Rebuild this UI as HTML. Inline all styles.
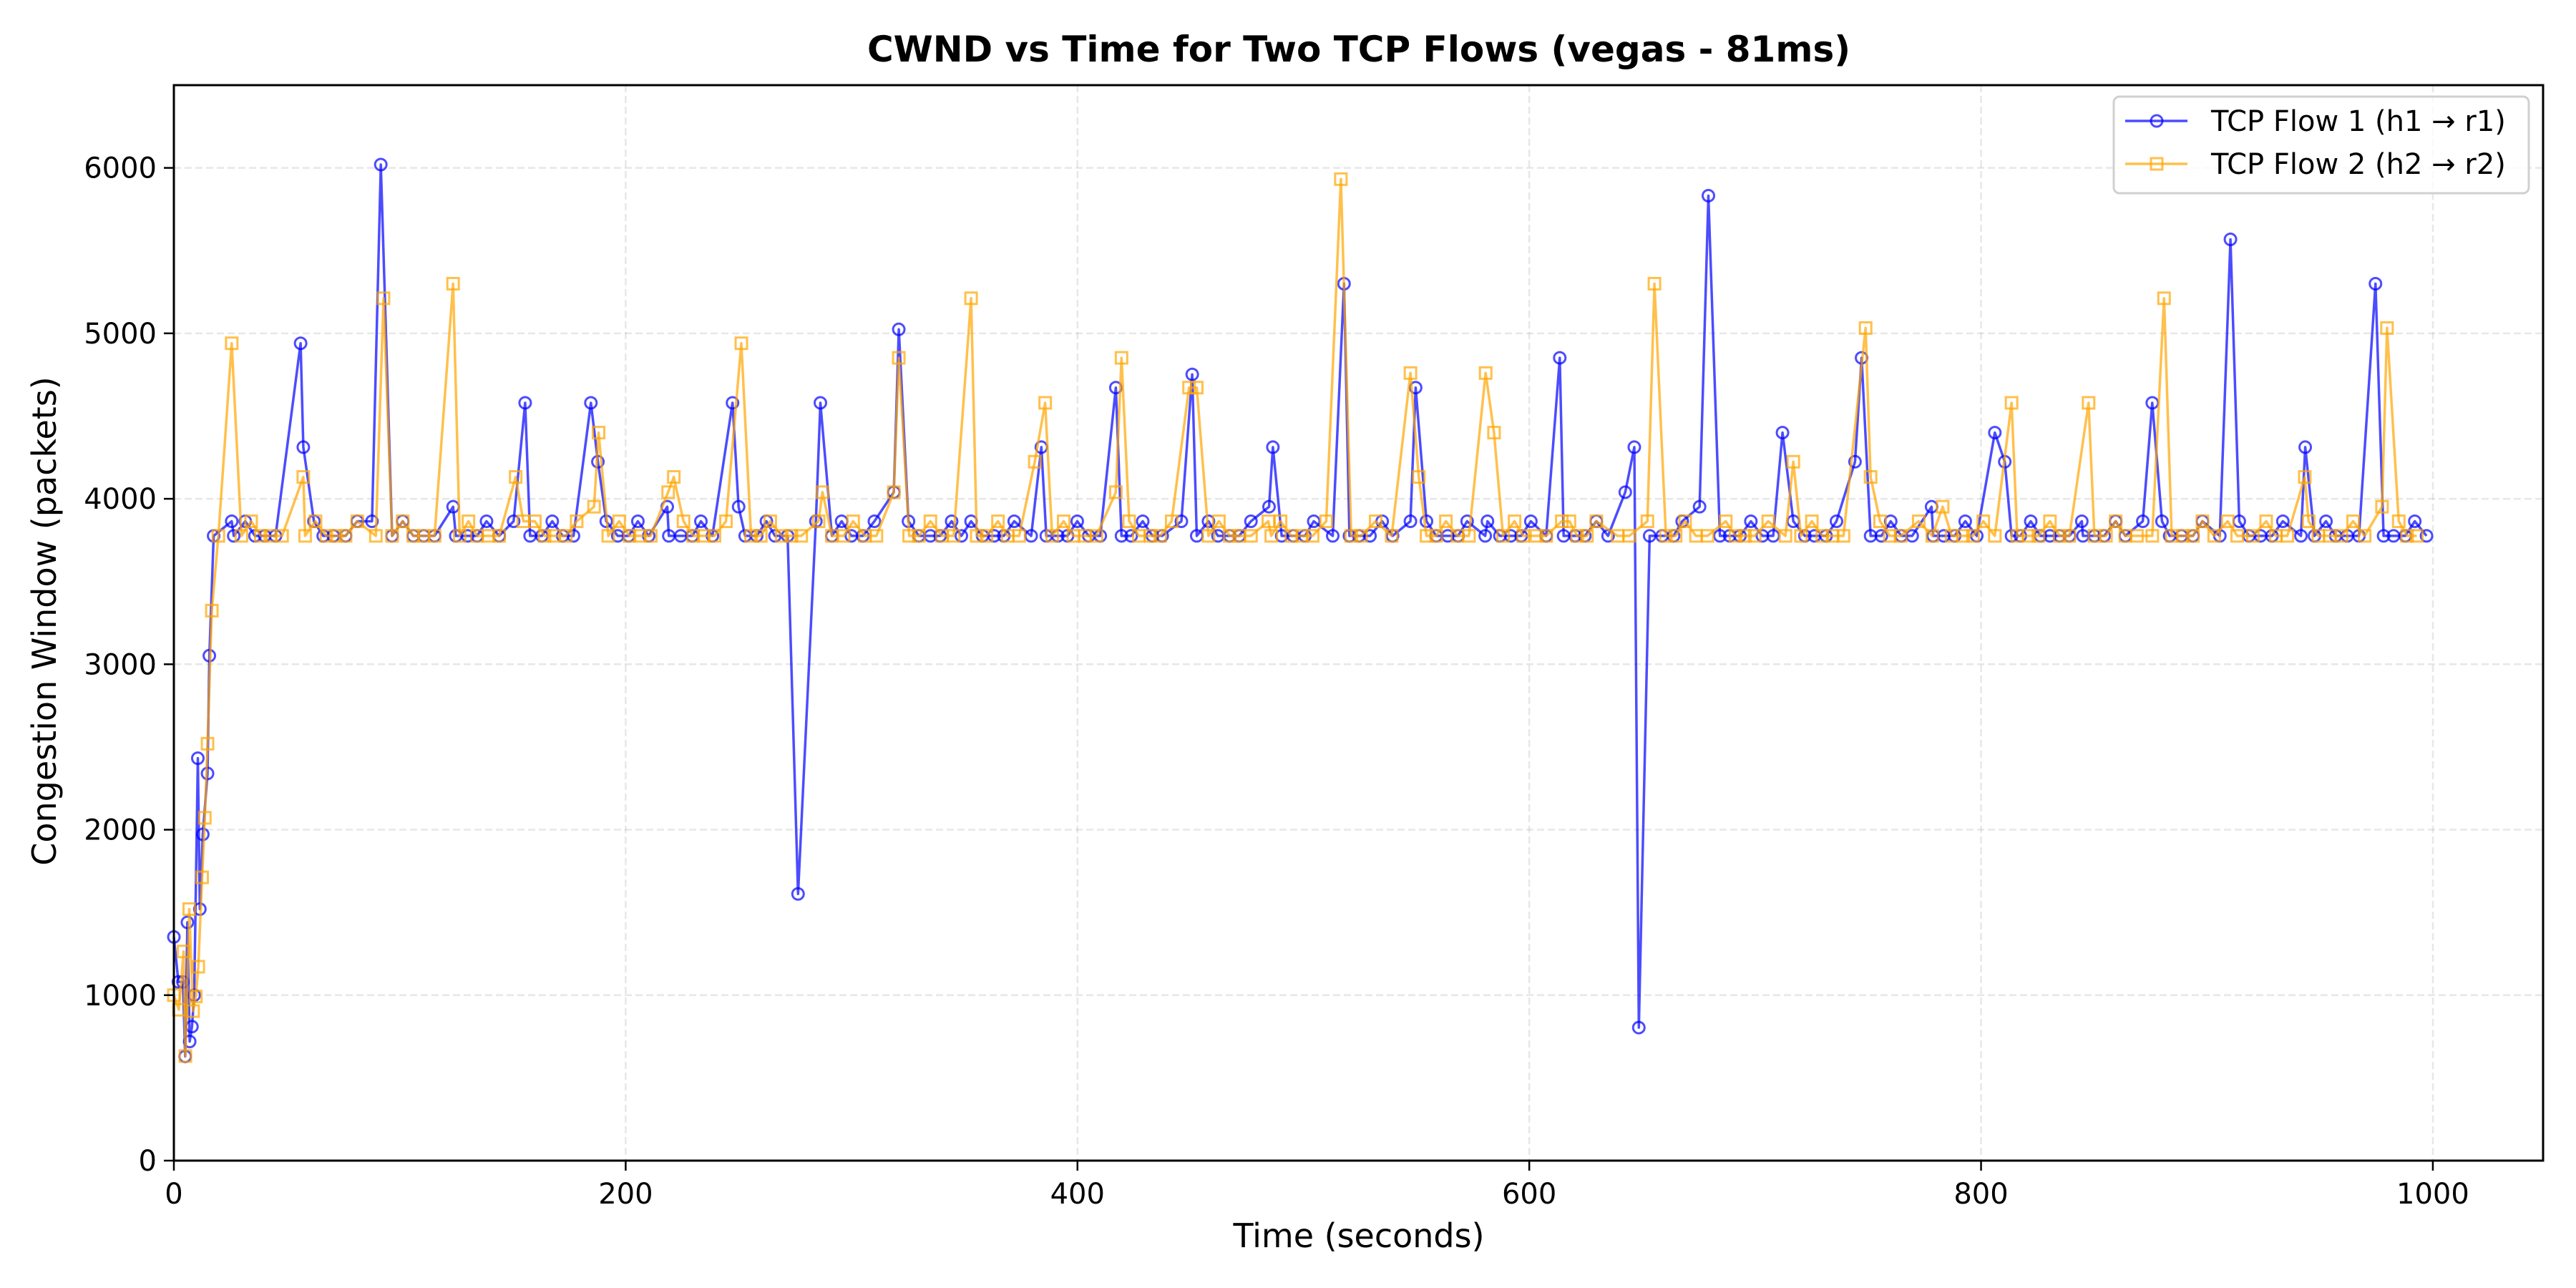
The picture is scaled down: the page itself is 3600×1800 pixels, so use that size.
<!DOCTYPE html>
<html><head><meta charset="utf-8"><style>
html,body{margin:0;padding:0;background:#fff;}
svg{display:block;font-family:"DejaVu Sans","Liberation Sans",sans-serif;}
</style></head><body>
<svg id="chart" width="3600" height="1800" viewBox="0 0 3600 1800" xmlns="http://www.w3.org/2000/svg">
<rect width="3600" height="1800" fill="#fff"/>
<g id="grid"></g>
<g id="series"></g>
<g id="axes"></g>
<text x="1899" y="86" text-anchor="middle" font-size="50" font-weight="bold">CWND vs Time for Two TCP Flows (vegas - 81ms)</text>
<text x="1899" y="1743" text-anchor="middle" font-size="46">Time (seconds)</text>
<text transform="translate(78,868) rotate(-90)" text-anchor="middle" font-size="46">Congestion Window (packets)</text>
<g>
<rect x="2954" y="135" width="580" height="135" rx="8" fill="#fff" fill-opacity="0.8" stroke="#d0d0d0" stroke-width="3"/>
<line x1="2970" y1="169" x2="3057" y2="169" stroke="#0000ff" stroke-opacity="0.7" stroke-width="3.5"/>
<circle cx="3014" cy="169" r="8" fill="none" stroke="#0000ff" stroke-opacity="0.7" stroke-width="3"/>
<text x="3090" y="183" font-size="40">TCP Flow 1 (h1 → r1)</text>
<line x1="2970" y1="229" x2="3057" y2="229" stroke="#ffa500" stroke-opacity="0.7" stroke-width="3.5"/>
<rect x="3006" y="221" width="16" height="16" fill="none" stroke="#ffa500" stroke-opacity="0.7" stroke-width="3"/>
<text x="3090" y="243" font-size="40">TCP Flow 2 (h2 → r2)</text>
</g>
</svg>
<script>
const xTicks=[0,200,400,600,800,1000];
const yTicks=[0,1000,2000,3000,4000,5000,6000];
const flow1T=[0,2,4,5,6,7,8,9,10.6,11.5,12.8,14.9,15.7,17.6,25.6,26.5,31.6,35.9,40.2,45,56.1,57.3,62,66.1,70.6,76,81.2,87.7,91.6,96.6,101.3,106,110.6,115.4,123.6,124.8,130,134.2,138.4,144,150.4,155.5,157.7,162.9,167.5,172.1,176.9,184.6,187.7,191.4,196.5,201.3,205.4,210.2,218.4,219.1,224.4,229.5,233.3,238.4,247.3,250,252.9,258,262.3,266.1,
271.7,276.3,284.2,286.2,291.3,295.6,299.9,305,310.1,318.7,320.9,325.2,329.8,334.9,339.2,344.3,348.6,352.9,358,363.1,367.4,372,379.5,384,386.2,391.3,395.6,399.9,405,410.1,417,419.5,423.8,428.9,433.2,437.5,446,450.8,452.8,458,462.2,467.4,471.6,476.8,484.8,486.5,490.4,495.6,500.7,504.6,513,518,520.4,524.6,529.5,
534.9,539.5,547.4,549.7,554.5,558.8,563.9,568.5,572.5,580.5,581.5,587,591.8,596.4,600.7,607.5,613.5,615.2,620.3,624.6,629.7,634.9,642.5,646.5,648.5,653.3,658.8,663.9,667.7,675.4,679.3,684.4,688.7,693.3,698.1,703.2,708,712.1,716.9,722,726.3,731.4,736,744.2,747.1,751.1,755.9,760,764.7,769.5,778.1,778.8,783.5,788.3,793,
798.1,806.1,810.5,813.5,817.4,822,826.3,830.5,834.8,839.1,844.6,845.1,850.2,854.5,859.6,863.9,871.6,875.8,880.1,883.5,888.7,893.8,898,905.7,910.4,914.3,918.6,923.7,928.8,933.6,941.6,943.5,947.6,952.7,957,962.1,967.3,974.6,978.2,982.6,987.8,992,997.2];
const flow1V=[1352,1080,1080,630,1440,720,810,1000,2432,1520,1972,2340,3052,3776,3864,3776,3864,3776,3776,3776,4940,4312,3864,3776,3776,3776,3864,3864,6020,3776,3864,3776,3776,3776,3952,3776,3776,3776,3864,3776,3864,4580,3776,3776,3864,3776,3776,4580,4224,3864,3776,3776,3864,3776,3952,3776,3776,3776,3864,3776,4580,3952,3776,3776,3864,3776,
3776,1612,3864,4580,3776,3864,3776,3776,3864,4040,5024,3864,3776,3776,3776,3864,3776,3864,3776,3776,3776,3864,3776,4312,3776,3776,3776,3864,3776,3776,4672,3776,3776,3864,3776,3776,3864,4752,3776,3864,3776,3776,3776,3864,3952,4312,3776,3776,3776,3864,3776,5300,3776,3776,3776,
3864,3776,3864,4672,3864,3776,3776,3776,3864,3776,3864,3776,3776,3776,3864,3776,4852,3776,3776,3776,3864,3776,4040,4312,804,3776,3776,3776,3864,3952,5832,3776,3776,3776,3864,3776,3776,4400,3864,3776,3776,3776,3864,4224,4852,3776,3776,3864,3776,3776,3952,3776,3776,3776,3864,
3776,4400,4224,3776,3776,3864,3776,3776,3776,3776,3864,3776,3776,3776,3864,3776,3864,4580,3864,3776,3776,3776,3864,3776,5568,3864,3776,3776,3776,3864,3776,4312,3776,3864,3776,3776,3776,5300,3776,3776,3776,3864,3776];
const flow2T=[0,2.2,4.3,5.1,6.8,8.5,9.7,10.8,12.5,13.7,14.9,16.8,19.7,25.6,29.9,34.2,38.5,42.7,47.9,57.3,58.1,62.7,67.5,71.8,76,81.2,89.4,92.8,96.6,101.3,106,110.6,115.4,123.6,126.5,130.4,134.2,139.3,144,151.3,154.7,159.8,164.1,168.3,173.5,178.3,186,188,192.3,197.1,201.7,206.3,211.1,218.8,221.3,225.6,229.9,234.6,239.3,244.4,251.2,255.5,259.8,264,
269.1,273.4,277.7,285.4,287.1,291.3,296.5,300.7,305.9,311,318.7,320.9,325.5,329.8,334.9,340,345.2,352.9,355.4,359.7,364.8,369.1,374.2,381.1,385.7,388.8,393.9,398.2,403.3,408.4,417,419.5,422.9,427.2,432.3,436.6,441.7,449.4,452.8,458,462.6,467.4,471.6,476.8,484.5,485.8,489.9,494.7,499.5,504.1,510.1,516.6,521.2,525.5,532,
539.1,547.4,551.1,554.5,558.8,563.1,568.2,573.3,580.7,584.4,588.4,593.5,597.3,603.2,607.5,614.4,617.8,621.2,625.5,629.7,639.1,644.3,652.3,655.4,660.5,664.8,669,673.8,678.9,687,691.3,695.5,699.8,705.8,713.4,716.9,720.3,725.1,729.7,734.3,739.1,748.9,751.1,755.3,759.6,764.4,772.4,778.4,783,787,792.1,
796.4,801,806.1,813.5,816,821.1,825.4,830.5,834.8,839.1,847.6,850.2,855.3,859.6,863.9,869,875.8,881,884.4,889.5,893.8,898,903.2,909.2,913.4,920.3,926.2,930.5,935.6,943.3,945,949.3,954.4,959.6,964.7,969.8,977.5,979.7,984.9,988.6,992.9];
const flow2V=[1000,912,1264,632,1520,904,992,1172,1712,2072,2520,3324,3776,4940,3776,3864,3776,3776,3776,4132,3776,3864,3776,3776,3776,3864,3776,5212,3776,3864,3776,3776,3776,5300,3776,3864,3776,3776,3776,4132,3864,3864,3776,3776,3776,3864,3952,4400,3776,3864,3776,3776,3776,4040,4132,3864,3776,3776,3776,3864,4940,3776,3776,3864,
3776,3776,3776,3864,4040,3776,3776,3864,3776,3776,4040,4852,3776,3776,3864,3776,3776,5212,3776,3776,3864,3776,3776,4224,4580,3776,3864,3776,3776,3776,4040,4852,3864,3776,3776,3776,3864,4672,4672,3776,3864,3776,3776,3776,3864,3776,3864,3776,3776,3776,3864,5932,3776,3776,3864,
3776,4760,4132,3776,3776,3864,3776,3776,4760,4400,3776,3864,3776,3776,3776,3864,3864,3776,3776,3864,3776,3776,3864,5300,3776,3776,3864,3776,3776,3864,3776,3776,3776,3864,3776,4224,3776,3864,3776,3776,3776,5032,4132,3864,3776,3776,3864,3776,3952,3776,3776,
3776,3864,3776,4580,3776,3776,3776,3864,3776,3776,4580,3776,3776,3864,3776,3776,3776,5212,3776,3776,3776,3864,3776,3864,3776,3776,3864,3776,3776,4132,3864,3776,3776,3776,3864,3776,3952,5032,3864,3776,3776];

const X0=243, X1=3554, Y0=1622, Y1=119, XMAX=1048.8, YMAX=6500;
const sx=t=>X0+(t/XMAX)*(X1-X0);
const sy=v=>Y0-(v/YMAX)*(Y0-Y1);
const NS="http://www.w3.org/2000/svg";
function mk(tag,attrs,parent){const e=document.createElementNS(NS,tag);for(const k in attrs)e.setAttribute(k,attrs[k]);parent.appendChild(e);return e;}
const grid=document.getElementById('grid'),axes=document.getElementById('axes'),series=document.getElementById('series');
xTicks.forEach(t=>{
  const g=mk('line',{x1:sx(t),x2:sx(t),y1:Y1,y2:Y0,stroke:'#b0b0b0','stroke-opacity':0.3,'stroke-width':2.5,'stroke-dasharray':'10,5'},grid);
  
  
  const tk=mk('line',{x1:sx(t),x2:sx(t),y1:Y0,y2:Y0+14,stroke:'#000','stroke-width':2.5},axes);
  
  
  const tx=mk('text',{x:sx(t),y:Y0+60,'text-anchor':'middle','font-size':40},axes);
  tx.textContent=t;
  
  
});
yTicks.forEach(v=>{
  const g=mk('line',{x1:X0,x2:X1,y1:sy(v),y2:sy(v),stroke:'#b0b0b0','stroke-opacity':0.3,'stroke-width':2.5,'stroke-dasharray':'10,5'},grid);
  
  
  const tk=mk('line',{x1:X0-14,x2:X0,y1:sy(v),y2:sy(v),stroke:'#000','stroke-width':2.5},axes);
  
  
  const tx=mk('text',{x:X0-24,y:sy(v)+14,'text-anchor':'end','font-size':40},axes);
  tx.textContent=v;
  
  
});
const frame=mk('rect',{x:X0,y:Y1,width:X1-X0,height:Y0-Y1,fill:'none',stroke:'#000','stroke-width':3},axes);



function drawSeries(ts,vs,color,marker,name){
  const g=mk('g',{'stroke-opacity':0.7},series);
  
  
  const pts=ts.map((t,i)=>sx(t).toFixed(1)+','+sy(vs[i]).toFixed(1)).join(' ');
  const pl=mk('polyline',{points:pts,fill:'none',stroke:color,'stroke-opacity':0.7,'stroke-width':3.5,'stroke-linejoin':'round'},g);
  
  
  ts.forEach((t,i)=>{
    let m;
    if(marker==='o') m=mk('circle',{cx:sx(t),cy:sy(vs[i]),r:8,fill:'none',stroke:color,'stroke-opacity':0.7,'stroke-width':3},g);
    else m=mk('rect',{x:sx(t)-8,y:sy(vs[i])-8,width:16,height:16,fill:'none',stroke:color,'stroke-opacity':0.7,'stroke-width':3},g);
    
    
  });
}
drawSeries(flow1T,flow1V,'#0000ff','o','flow-1-series');
drawSeries(flow2T,flow2V,'#ffa500','s','flow-2-series');
</script>
</body></html>
